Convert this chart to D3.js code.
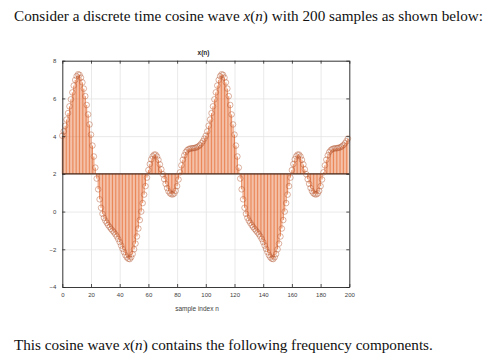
<!DOCTYPE html>
<html>
<head>
<meta charset="utf-8">
<script src="https://cdn.jsdelivr.net/npm/d3@7"></script>
<style>
  body { margin: 0; background: #fff; }
  svg { display: block; }
</style>
</head>
<body>
<svg id="chart" width="488" height="363"></svg>
<script>
// sample values, n = 0..199
const xn = [
    4.02, 4.25, 4.55, 4.88, 5.22, 5.58, 5.95, 6.32, 6.68, 6.98,
    7.18, 7.28, 7.25, 7.10, 6.85, 6.52, 6.12, 5.65, 5.15, 4.62,
    4.08, 3.50, 2.92, 2.33, 1.75, 1.18, 0.65, 0.20, -0.12, -0.33,
    -0.48, -0.60, -0.72, -0.82, -0.92, -1.01, -1.10, -1.20, -1.32, -1.46,
    -1.62, -1.80, -1.98, -2.15, -2.31, -2.43, -2.50, -2.52, -2.42, -2.25,
    -2.00, -1.70, -1.32, -0.90, -0.45, 0.00, 0.45, 0.90, 1.35, 1.80,
    2.20, 2.52, 2.77, 2.93, 3.02, 3.02, 2.92, 2.74, 2.50, 2.24,
    1.98, 1.72, 1.47, 1.25, 1.08, 0.97, 0.92, 0.91, 0.96, 1.10,
    1.35, 1.70, 2.08, 2.45, 2.75, 2.98, 3.15, 3.25, 3.31, 3.34,
    3.35, 3.36, 3.37, 3.39, 3.42, 3.47, 3.53, 3.62, 3.73, 3.87,
    4.02, 4.25, 4.55, 4.88, 5.22, 5.58, 5.95, 6.32, 6.68, 6.98,
    7.18, 7.28, 7.25, 7.10, 6.85, 6.52, 6.12, 5.65, 5.15, 4.62,
    4.08, 3.50, 2.92, 2.33, 1.75, 1.18, 0.65, 0.20, -0.12, -0.33,
    -0.48, -0.60, -0.72, -0.82, -0.92, -1.01, -1.10, -1.20, -1.32, -1.46,
    -1.62, -1.80, -1.98, -2.15, -2.31, -2.43, -2.50, -2.52, -2.42, -2.25,
    -2.00, -1.70, -1.32, -0.90, -0.45, 0.00, 0.45, 0.90, 1.35, 1.80,
    2.20, 2.52, 2.77, 2.93, 3.02, 3.02, 2.92, 2.74, 2.50, 2.24,
    1.98, 1.72, 1.47, 1.25, 1.08, 0.97, 0.92, 0.91, 0.96, 1.10,
    1.35, 1.70, 2.08, 2.45, 2.75, 2.98, 3.15, 3.25, 3.31, 3.34,
    3.35, 3.36, 3.37, 3.39, 3.42, 3.47, 3.53, 3.62, 3.73, 3.87
];
const sampleIdx = d3.range(xn.length);
const baseValue = 2;

const xTicks = [0, 20, 40, 60, 80, 100, 120, 140, 160, 180, 200];
const yTicks = [-4, -2, 0, 2, 4, 6, 8];

const titleText = "x(n)";
const xLabelText = "sample index n";

const plot = { left: 62.3, right: 349.3, top: 60.7, bottom: 287 };

const svg = d3.select("#chart");

// the text above and below the figure
function mathLine(y, before, after) {
    const t = svg.append("text")
        .attr("x", 14)
        .attr("y", y)
        .style("font-family", "'Liberation Serif', 'Times New Roman', serif")
        .style("font-size", "15.2px")
        .attr("fill", "#111");
    t.append("tspan").text(before);
    t.append("tspan").style("font-style", "italic").text("x");
    t.append("tspan").text("(");
    t.append("tspan").style("font-style", "italic").text("n");
    t.append("tspan").text(")");
    t.append("tspan").text(after);
}
mathLine(20.5, "Consider a discrete time cosine wave ", " with 200 samples as shown below:");
mathLine(349.5, "This cosine wave ", " contains the following frequency components.");

const x = d3.scaleLinear().domain([0, 200]).range([plot.left, plot.right]);
const y = d3.scaleLinear().domain([-4, 8]).range([plot.bottom, plot.top]);

const w = plot.right - plot.left;
const h = plot.bottom - plot.top;

// grid
const grid = svg.append("g").attr("class", "grid");
grid.append("g")
    .attr("transform", `translate(0,${plot.bottom})`)
    .call(d3.axisBottom(x).tickValues(xTicks).tickSize(-h).tickFormat(""))
    .call(g => g.select(".domain").remove())
    .call(g => g.selectAll("line").attr("stroke", "#e3e3e3").attr("stroke-width", 0.8));
grid.append("g")
    .attr("transform", `translate(${plot.left},0)`)
    .call(d3.axisLeft(y).tickValues(yTicks).tickSize(-w).tickFormat(""))
    .call(g => g.select(".domain").remove())
    .call(g => g.selectAll("line").attr("stroke", "#e3e3e3").attr("stroke-width", 0.8));

// stems
svg.append("g")
    .attr("class", "stems")
    .selectAll("line")
    .data(sampleIdx)
    .enter()
    .append("line")
    .attr("x1", d => x(d))
    .attr("x2", d => x(d))
    .attr("y1", y(baseValue))
    .attr("y2", d => y(xn[d]))
    .attr("stroke", "#e5672c")
    .attr("stroke-width", 0.8);

// baseline
svg.append("line")
    .attr("x1", plot.left)
    .attr("x2", plot.right)
    .attr("y1", y(baseValue))
    .attr("y2", y(baseValue))
    .attr("stroke", "#4a2616")
    .attr("stroke-width", 1.4);

// markers
svg.append("g")
    .attr("class", "markers")
    .selectAll("circle")
    .data(sampleIdx)
    .enter()
    .append("circle")
    .attr("cx", d => x(d))
    .attr("cy", d => y(xn[d]))
    .attr("r", 2.8)
    .attr("fill", "none")
    .attr("stroke", "#b2562e")
    .attr("stroke-opacity", 0.75)
    .attr("stroke-width", 0.6);

// axes, ticks point inwards, box on
const axisColor = "#262626";
function styleAxis(g) {
    g.select(".domain").attr("stroke", axisColor).attr("stroke-width", 0.9);
    g.selectAll(".tick line").attr("stroke", axisColor).attr("stroke-width", 0.8);
    g.selectAll(".tick text")
        .attr("fill", "#404040")
        .style("font-family", "'Liberation Sans', Arial, sans-serif")
        .style("font-size", "6px");
}

svg.append("g")
    .attr("transform", `translate(0,${plot.bottom})`)
    .call(d3.axisBottom(x).tickValues(xTicks).tickSizeInner(-3).tickSizeOuter(0).tickPadding(6))
    .call(styleAxis);
svg.append("g")
    .attr("transform", `translate(0,${plot.top})`)
    .call(d3.axisTop(x).tickValues(xTicks).tickSizeInner(-3).tickSizeOuter(0).tickFormat(""))
    .call(styleAxis);
svg.append("g")
    .attr("transform", `translate(${plot.left},0)`)
    .call(d3.axisLeft(y).tickValues(yTicks).tickSizeInner(-3).tickSizeOuter(0).tickPadding(6))
    .call(styleAxis);
svg.append("g")
    .attr("transform", `translate(${plot.right},0)`)
    .call(d3.axisRight(y).tickValues(yTicks).tickSizeInner(-3).tickSizeOuter(0).tickFormat(""))
    .call(styleAxis);

// title and x label
svg.append("text")
    .attr("x", 203.5)
    .attr("y", 55)
    .attr("text-anchor", "middle")
    .style("font-family", "'Liberation Sans', Arial, sans-serif")
    .style("font-size", "6.5px")
    .style("font-weight", "bold")
    .attr("fill", "#262626")
    .text(titleText);

svg.append("text")
    .attr("x", 197)
    .attr("y", 310.5)
    .attr("text-anchor", "middle")
    .style("font-family", "'Liberation Sans', Arial, sans-serif")
    .style("font-size", "6.5px")
    .attr("fill", "#404040")
    .text(xLabelText);
</script>
</body>
</html>
